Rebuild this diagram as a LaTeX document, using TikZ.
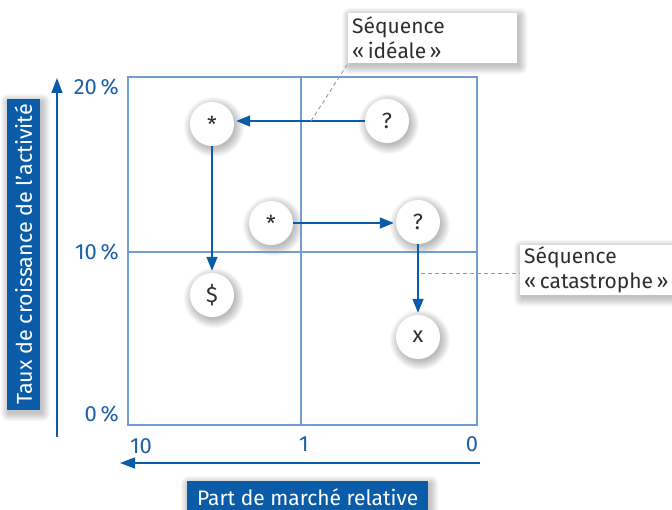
\documentclass[tikz,border=0pt]{standalone}
\usepackage{fontspec}
\setmainfont{Fira Sans}
\usetikzlibrary{arrows.meta}
\definecolor{dblue}{HTML}{0B5CA8}
\definecolor{lblue}{HTML}{6E9DD6}
\definecolor{tblue}{HTML}{1F5FA8}
\definecolor{txt}{HTML}{2E2E2E}
\definecolor{dgray}{HTML}{9A9A9A}
\pgfdeclarelayer{bg}
\pgfsetlayers{bg,main}
\begin{document}
\begin{tikzpicture}[x=1pt,y=-1pt,
  bubble/.style={circle, fill=white, minimum size=44pt, inner sep=0pt, text=txt,
    font=\fontsize{22}{22}\selectfont},
  flow/.style={dblue, line width=1.4pt, -{Triangle[length=14pt,width=11pt]}, shorten >=2pt},
  axisarrow/.style={dblue, line width=1.4pt, -{Triangle[length=15pt,width=11pt]}},
  gridline/.style={lblue, line width=1.3pt},
  ticklabel/.style={text=tblue, font=\fontsize{22}{22}\selectfont, inner sep=0pt},
  bluebox/.style={fill=dblue, text=white, inner sep=0pt},
  callout/.style={fill=white, text=txt, align=left, inner xsep=4pt, inner ysep=0pt,
    font=\fontsize{21}{25}\selectfont, minimum height=50pt},
  leader/.style={dgray, line width=0.9pt, dash pattern=on 4pt off 3pt},
  shadowstep/.style={fill=black, opacity=0.028}
]
\useasboundingbox (0,0) rectangle (672,510);

% frame and quadrant lines
\draw[gridline] (128,77) rectangle (477,425);
\draw[gridline] (301,77) -- (301,425);
\draw[gridline] (128,252) -- (477,252);

% axes
\coordinate (ya) at (57,437);
\coordinate (yb) at (57,78);
\draw[axisarrow] (ya) -- (yb);
\coordinate (xa) at (480,463);
\coordinate (xb) at (120,463);
\draw[axisarrow] (xa) -- (xb);

% tick labels
\node[ticklabel, anchor=base east] (t20) at (119,95) {20\,\%};
\node[ticklabel, anchor=base east] (t10) at (119,260) {10\,\%};
\node[ticklabel, anchor=base east] (t0) at (119,421) {0\,\%};
\node[ticklabel, anchor=base] (x10) at (141,453) {10};
\node[ticklabel, anchor=base] (x1) at (304,451) {1};
\node[ticklabel, anchor=base] (x0) at (472,451) {0};

% axis titles
\node[bluebox, rotate=90, minimum width=311pt, minimum height=33pt, font=\fontsize{21.5}{21.5}\selectfont] (ylab) at (23.5,254.5) {Taux de croissance de l’activité};
\node[bluebox, anchor=north west, minimum width=241pt, minimum height=32pt, font=\fontsize{21}{21}\selectfont] (xlab) at (187,481) {Part de marché relative};

% bubbles
\node[bubble] (s1) at (212,124) {*};
\node[bubble] (q1) at (387,121) {?};
\node[bubble] (s2) at (271,223) {*};
\node[bubble] (q2) at (418,222) {?};
\node[bubble] (d1) at (212,295) {\$};
\node[bubble] (x1b) at (418,337) {x};

% flows
\draw[flow] (q1.west) -- (s1.east |- q1.west);
\draw[flow] (s1.south) -- (d1.north);
\draw[flow] (s2.east) -- (q2.west |- s2.east);
\draw[flow] (q2.south) -- (x1b.north);

% callouts
\node[callout, anchor=north west, text width=161pt] (idl) at (348,13) {Séquence\\«\,idéale\,»};
\node[callout, anchor=north west, text width=144pt] (cat) at (520,245) {Séquence\\«\,catastrophe\,»};
\coordinate (c1) at (311,121);
\coordinate (c2) at (421,273);
\draw[leader] (c1) -- (idl.south west);
\draw[leader] (c2) -- (cat.west |- c2);

% soft shadows
\begin{pgfonlayer}{bg}
\fill[white] (0,0) rectangle (672,510);
\foreach \n in {s1,q1,s2,q2,d1,x1b}{
  \foreach \r in {21,22,...,30}{
    \fill[shadowstep] ([shift={(2,3)}]\n.center) circle[radius=\r pt];
  }
}
\foreach \n in {xlab,idl,cat}{
  \foreach \e in {0,1,...,8}{
    \fill[shadowstep, rounded corners=\e pt] ([shift={(-\e+2,\e+3)}]\n.south west) rectangle ([shift={(\e+2,-\e+3)}]\n.north east);
  }
}
\foreach \e in {0,1,...,8}{
  \fill[shadowstep, rounded corners=\e pt] ([shift={(-\e+2,-\e+3)}]ylab.north east) rectangle ([shift={(\e+2,\e+3)}]ylab.south west);
}
\end{pgfonlayer}
\end{tikzpicture}
\end{document}
